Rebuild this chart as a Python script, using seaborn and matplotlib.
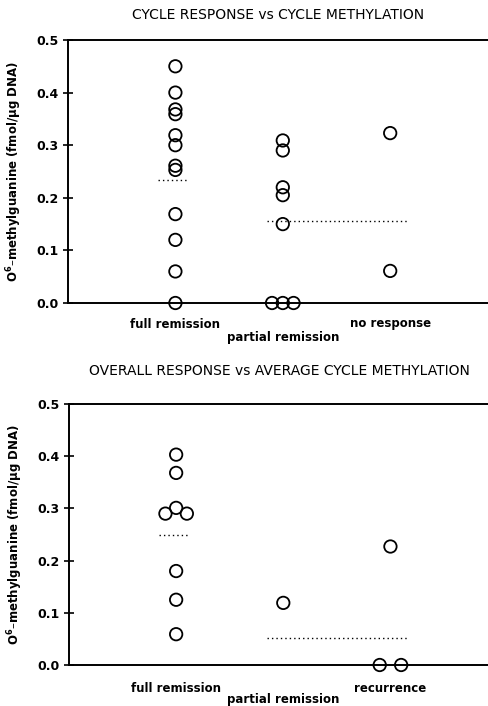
import numpy as np
import pandas as pd
import matplotlib
matplotlib.use("Agg")
import matplotlib.pyplot as plt
import seaborn as sns

# ---------------- data ----------------
top_title = "CYCLE RESPONSE vs CYCLE METHYLATION"
top_categories = ["full remission", "partial remission", "no response"]
top_full = [0.45, 0.40, 0.368, 0.359, 0.319, 0.300, 0.261, 0.253, 0.169, 0.120, 0.060, 0.0]
top_partial = [0.309, 0.290, 0.220, 0.205, 0.150, 0.0, 0.0, 0.0]
top_noresp = [0.323, 0.061]
top_mean_full = 0.234
top_mean_rest = 0.156

bot_title = "OVERALL RESPONSE vs AVERAGE CYCLE METHYLATION"
bot_categories = ["full remission", "partial remission", "recurrence"]
bot_full = [0.403, 0.368, 0.301, 0.290, 0.290, 0.180, 0.125, 0.059]
bot_partial = [0.119]
bot_recur = [0.227, 0.0, 0.0]
bot_mean_full = 0.250
bot_mean_rest = 0.051

y_ticks = [0.0, 0.1, 0.2, 0.3, 0.4, 0.5]
y_label = "O$^\\mathbf{6}$\u2013methylguanine (fmol/\u03bcg DNA)"

# ---------------- style ----------------
sns.set_theme(style="white")
plt.rcParams["font.family"] = ["DejaVu Sans"]
plt.rcParams["font.weight"] = "bold"
plt.rcParams["text.color"] = "black"
plt.rcParams["axes.labelcolor"] = "black"
plt.rcParams["mathtext.default"] = "bf"

fig = plt.figure(figsize=(4.89, 7.06), dpi=100)
W, H = 489.0, 706.0


def make_df(groups):
    rows = []
    for ci, vals in enumerate(groups):
        vals = list(vals)
        # spread identical values horizontally (like the original)
        for v in sorted(set(vals), key=lambda t: -t):
            n = vals.count(v)
            offs = (np.arange(n) - (n - 1) / 2.0) * (0.2 if n == 2 else 0.1)
            for o in offs:
                rows.append({"x": ci + o, "y": v})
    return pd.DataFrame(rows)


def panel(ax_box, groups, cats, title, mean_full, mean_rest, lab_off, tpad):
    left, top_px, bottom_px = ax_box
    ax = fig.add_axes([left / W, 1 - bottom_px / H, 1 - left / W, (bottom_px - top_px) / H])
    df = make_df(groups)
    sns.scatterplot(data=df, x="x", y="y", ax=ax, marker="o", s=80,
                    facecolor="none", edgecolor="black", linewidth=1.3,
                    clip_on=False, zorder=3)
    ax.set_xlim(-1.0, 2.92)
    ax.set_ylim(0, 0.5)
    ax.set_yticks(y_ticks)
    ax.set_yticklabels([f"{t:.1f}" for t in y_ticks], fontsize=9, fontweight="bold")
    ax.tick_params(axis="y", direction="inout", length=7, width=1.2, left=True, pad=3,
                   colors="black", labelcolor="black")
    ax.set_xticks([])
    ax.set_xlabel("")
    ax.set_ylabel(y_label, fontsize=8.5, fontweight="bold", labelpad=9, color="black")
    for side in ["left", "bottom", "top"]:
        ax.spines[side].set_visible(True)
        ax.spines[side].set_color("black")
        ax.spines[side].set_linewidth(1.4)
    ax.spines["right"].set_visible(False)
    # mean lines
    ax.hlines(mean_full, -0.16, 0.13, colors="black", linestyles=(0, (1, 2.2)), linewidth=1.0)
    ax.hlines(mean_rest, 1 - 0.15, 2 + 0.16, colors="black", linestyles=(0, (1, 2.2)), linewidth=1.0)
    # category labels
    for i, c in enumerate(cats):
        dy = lab_off[1] if i == 1 else lab_off[0]
        ax.annotate(c, xy=(i, 0), xycoords=("data", "axes fraction"),
                    xytext=(0, -dy), textcoords="offset pixels",
                    ha="center", va="center", fontsize=8.5, fontweight="bold", color="black")
    ax.set_title(title, fontsize=10, fontweight="normal", pad=tpad, color="black")
    return ax


panel((68, 40, 303), [top_full, top_partial, top_noresp], top_categories,
      top_title, top_mean_full, top_mean_rest, (21, 34), 15)
panel((69, 404, 665), [bot_full, bot_partial, bot_recur], bot_categories,
      bot_title, bot_mean_full, bot_mean_rest, (23, 35), 21)

fig.savefig("out.png", dpi=100)
